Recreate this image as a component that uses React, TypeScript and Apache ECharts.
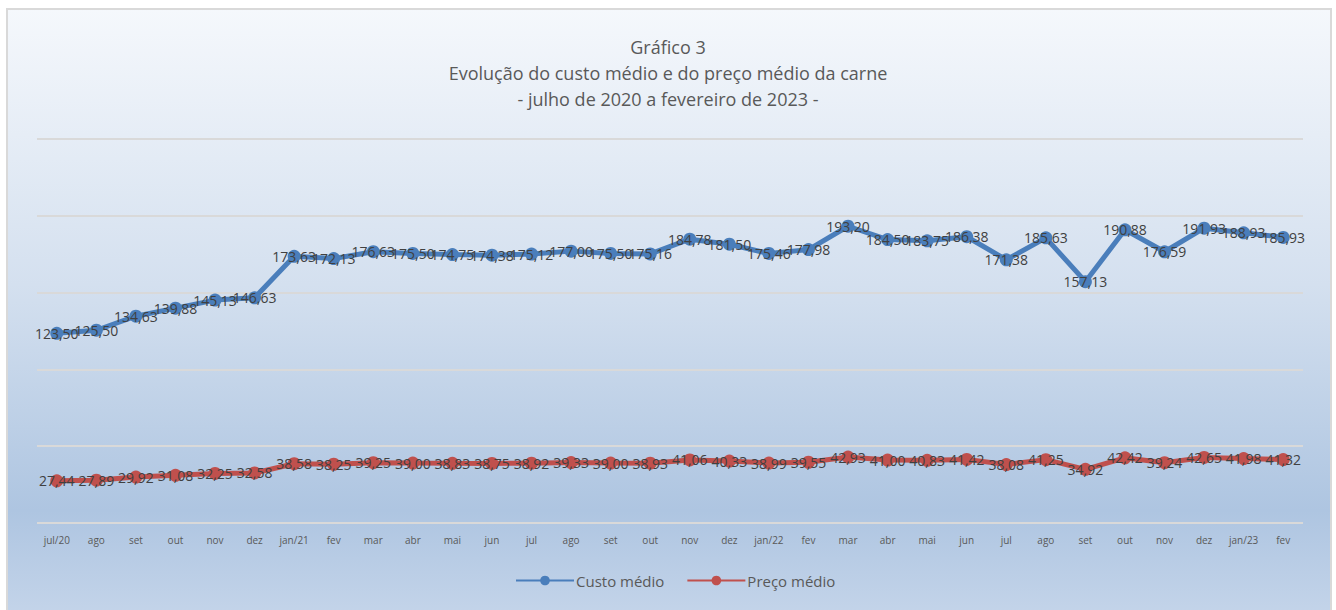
import React, { useEffect, useRef } from "react";
import * as echarts from "echarts";

const categories = [
  "jul/20", "ago", "set", "out", "nov", "dez",
  "jan/21", "fev", "mar", "abr", "mai", "jun", "jul", "ago", "set", "out", "nov", "dez",
  "jan/22", "fev", "mar", "abr", "mai", "jun", "jul", "ago", "set", "out", "nov", "dez",
  "jan/23", "fev",
];

const custoMedio = [
  123.5, 125.5, 134.63, 139.88, 145.13, 146.63,
  173.63, 172.13, 176.63, 175.5, 174.75, 174.38, 175.12, 177.0, 175.5, 175.16, 184.78, 181.5,
  175.46, 177.98, 193.2, 184.5, 183.75, 186.38, 171.38, 185.63, 157.13, 190.88, 176.59, 191.93,
  188.93, 185.93,
];

const precoMedio = [
  27.44, 27.89, 29.92, 31.08, 32.25, 32.58,
  38.58, 38.25, 39.25, 39.0, 38.83, 38.75, 38.92, 39.33, 39.0, 38.93, 41.06, 40.33,
  38.99, 39.55, 42.93, 41.0, 40.83, 41.42, 38.08, 41.25, 34.92, 42.42, 39.24, 42.65,
  41.98, 41.32,
];

const titleLines = [
  "Gráfico 3",
  "Evolução do custo médio e do preço médio da carne",
  "- julho de 2020 a fevereiro de 2023 -",
];

const FONT = "'Open Sans', 'Noto Sans', sans-serif";
const fmt = (v: number) => v.toFixed(2).replace(".", ",");

export default function App() {
  const ref = useRef<HTMLDivElement>(null);
  useEffect(() => {
    if (!ref.current) return;
    const chart = echarts.init(ref.current, undefined, { renderer: "svg" });
    const labelCfg = {
      show: true,
      position: "inside",
      fontSize: 14,
      color: "#404040",
      fontFamily: FONT,
      formatter: (p: any) => fmt(p.value),
    };
    chart.setOption({
      animation: false,
      textStyle: { fontFamily: FONT },
      graphic: [
        {
          type: "rect",
          z: -100,
          silent: true,
          shape: { x: 7, y: 9, width: 1324, height: 612 },
          style: {
            stroke: "#d9d9d9",
            lineWidth: 2,
            fill: new echarts.graphic.LinearGradient(0, 0, 0, 1, [
              { offset: 0, color: "#f5f8fc" },
              { offset: 0.45, color: "#d4e0ef" },
              { offset: 0.82, color: "#aec5e1" },
              { offset: 1, color: "#c5d5ea" },
            ]),
          },
        },
      ],
      title: {
        text: titleLines.join("\n"),
        left: "center",
        top: 29,
        textStyle: {
          fontSize: 18,
          fontWeight: "normal",
          color: "#595959",
          lineHeight: 26,
          fontFamily: FONT,
        },
      },
      legend: {
        bottom: 17,
        left: 510,
        itemWidth: 58,
        itemHeight: 12,
        itemGap: 22,
        textStyle: { fontSize: 15, color: "#595959", fontFamily: FONT, padding: [0, 0, 0, -3] },
        data: ["Custo médio", "Preço médio"],
      },
      grid: { left: 37, right: 33, top: 139, bottom: 87 },
      xAxis: {
        type: "category",
        data: categories,
        boundaryGap: true,
        axisLine: { show: false },
        axisTick: { show: false },
        axisLabel: { fontSize: 10, color: "#595959", margin: 12, interval: 0, fontFamily: FONT },
      },
      yAxis: {
        type: "value",
        min: 0,
        max: 250,
        interval: 50,
        axisLabel: { show: false },
        axisLine: { show: false },
        axisTick: { show: false },
        splitLine: { lineStyle: { color: "#d9d9d9", width: 2 } },
      },
      series: [
        {
          name: "Custo médio",
          type: "line",
          data: custoMedio,
          color: "#4a7ebb",
          lineStyle: { width: 5, color: "#4a7ebb" },
          symbol: "circle",
          symbolSize: 13,
          itemStyle: { color: "#4a7ebb" },
          label: labelCfg,
          z: 3,
        },
        {
          name: "Preço médio",
          type: "line",
          data: precoMedio,
          color: "#c0504d",
          lineStyle: { width: 5, color: "#c0504d" },
          symbol: "circle",
          symbolSize: 13,
          itemStyle: { color: "#c0504d" },
          label: labelCfg,
          z: 3,
        },
      ],
    });
    return () => chart.dispose();
  }, []);
  return (
    <div
      ref={ref}
      style={{ position: "absolute", left: 0, top: 0, width: 1336, height: 610, background: "#ffffff" }}
    />
  );
}
